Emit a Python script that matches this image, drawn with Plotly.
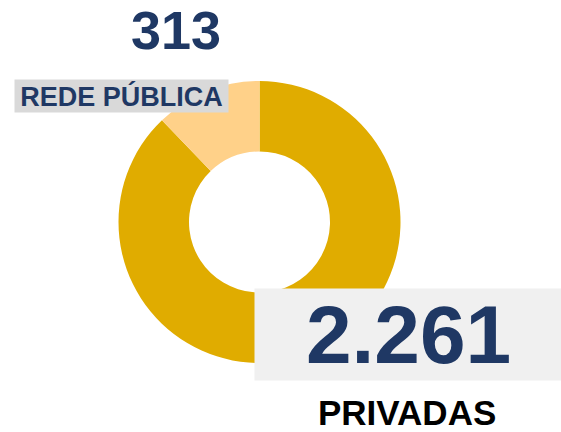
import plotly.graph_objects as go

labels = ["PRIVADAS", "REDE PÚBLICA"]
values = [2261, 313]
value_text = ["2.261", "313"]
colors = ["#E0AC00", "#FFD189"]

W, H = 561, 432


def px_x(x):
    return x / W


def px_y(y):
    return 1 - y / H


fig = go.Figure()
fig.add_trace(go.Pie(
    labels=labels, values=values, hole=0.5, sort=False,
    direction="clockwise", rotation=0,
    marker=dict(colors=colors, line=dict(width=0)),
    textinfo="none", hoverinfo="label+value", showlegend=False,
    domain=dict(x=[px_x(118), px_x(401)], y=[px_y(363), px_y(81)]),
))

font = "Liberation Sans, Arial, sans-serif"
navy = "#1F3864"

# public network: number + label
fig.add_annotation(
    x=px_x(176), y=px_y(30), xref="paper", yref="paper",
    xanchor="center", yanchor="middle",
    text="<b>%s</b>" % value_text[1], showarrow=False,
    font=dict(family=font, size=54, color=navy),
)
fig.add_annotation(
    x=px_x(14), y=px_y(79), xref="paper", yref="paper",
    xanchor="left", yanchor="top", width=213, height=32, borderpad=0,
    text="<b>%s</b>" % labels[1], showarrow=False, bgcolor="#D9D9D9",
    font=dict(family=font, size=27, color=navy),
)

# private: number + label
fig.add_annotation(
    x=px_x(254), y=px_y(288), xref="paper", yref="paper",
    xanchor="left", yanchor="top", width=307, height=91, borderpad=0,
    text="<b>%s</b>" % value_text[0], showarrow=False, bgcolor="#F0F0F0",
    font=dict(family=font, size=82, color=navy),
)
fig.add_annotation(
    x=px_x(407), y=px_y(412), xref="paper", yref="paper",
    xanchor="center", yanchor="middle", borderpad=0,
    text="<b>%s</b>" % labels[0], showarrow=False,
    font=dict(family=font, size=35, color="#000000"),
)

fig.update_layout(
    width=W, height=H,
    margin=dict(l=0, r=0, t=0, b=0),
    paper_bgcolor="white", plot_bgcolor="white",
)

fig.write_html("out.html", config={"displayModeBar": False},
               post_script="document.body.style.margin='0';")
